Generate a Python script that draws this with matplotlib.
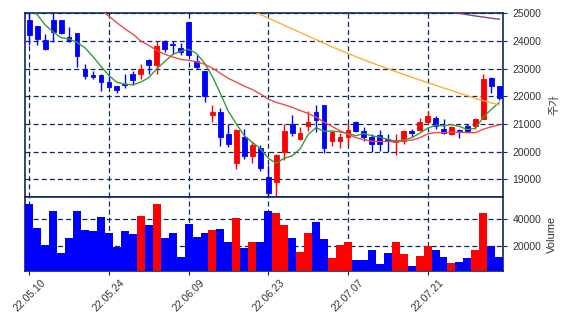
import numpy as np
import matplotlib
matplotlib.use("Agg")
import matplotlib.pyplot as plt

plt.rcParams['font.family'] = ['Liberation Sans', 'Noto Sans CJK KR', 'DejaVu Sans']

dates = ["22.05.10", "22.05.11", "22.05.12", "22.05.13", "22.05.16", "22.05.17", "22.05.18", "22.05.19",
         "22.05.20", "22.05.23", "22.05.24", "22.05.25", "22.05.26", "22.05.27", "22.05.30", "22.05.31",
         "22.06.02", "22.06.03", "22.06.07", "22.06.08", "22.06.09", "22.06.10", "22.06.13", "22.06.14",
         "22.06.15", "22.06.16", "22.06.17", "22.06.20", "22.06.21", "22.06.22", "22.06.23", "22.06.24",
         "22.06.27", "22.06.28", "22.06.29", "22.06.30", "22.07.01", "22.07.04", "22.07.05", "22.07.06",
         "22.07.07", "22.07.08", "22.07.11", "22.07.12", "22.07.13", "22.07.14", "22.07.15", "22.07.18",
         "22.07.19", "22.07.20", "22.07.21", "22.07.22", "22.07.25", "22.07.26", "22.07.27", "22.07.28",
         "22.07.29", "22.08.01", "22.08.02", "22.08.03"]

opens = [24750, 24540, 24030, 24757, 24757, 24150, 24273, 23000, 22756, 22757,
         22500, 22357, 22450, 22790, 22790, 23302, 23120, 23993, 23890, 23745,
         24673, 23290, 22902, 21310, 21440, 20636, 19575, 20515, 19823, 20115,
         19096, 18915, 19968, 21000, 20442, 20914, 21448, 21691, 20368, 20368,
         20515, 21084, 20757, 20513, 20605, 20470, 20332, 20368, 20757, 20793,
         21060, 21218, 20818, 20636, 20793, 20938, 20938, 21182, 22658, 22356]
highs = [25030, 24560, 24270, 25030, 24770, 24490, 24305, 23157, 22910, 22790,
         22720, 22380, 22818, 22908, 23156, 23330, 23990, 24050, 24010, 23920,
         24680, 23500, 22910, 21680, 21582, 21000, 20800, 20800, 20350, 20250,
         19500, 19920, 21000, 21327, 20900, 21450, 21680, 21691, 20730, 20680,
         21020, 21100, 20877, 20636, 20790, 20636, 20620, 20790, 20810, 21220,
         21484, 21300, 21160, 20920, 20818, 21000, 21230, 22790, 22680, 22360]
lows = [23840, 23850, 23665, 23968, 24260, 23970, 23065, 22633, 22636, 22200,
        22320, 22120, 22290, 22400, 22636, 22818, 22793, 23590, 23540, 23500,
        23470, 23000, 21800, 21060, 20200, 20150, 19360, 19727, 19600, 19300,
        18370, 18395, 19710, 20555, 20420, 20757, 20710, 19940, 20200, 20120,
        20250, 20700, 20380, 19995, 20010, 20000, 19880, 20260, 20530, 20760,
        21030, 20830, 20640, 20610, 20491, 20710, 20810, 21160, 22113, 21860]
closes = [24230, 24085, 23703, 24310, 24273, 23990, 23460, 22732, 22710, 22514,
          22332, 22230, 22418, 22575, 23000, 23145, 23822, 23720, 23870, 23605,
          23480, 23060, 21994, 21415, 20515, 20273, 20788, 19848, 20248, 19388,
          18515, 19885, 20757, 20660, 20672, 21078, 21146, 20120, 20690, 20515,
          20792, 20745, 20520, 20273, 20273, 20380, 20418, 20757, 20660, 21084,
          21302, 20939, 20659, 20902, 20732, 20732, 21182, 22636, 22357, 21950]
volumes = [51500, 33500, 20750, 46250, 14750, 26000, 46250, 32000, 31250, 41750,
           29750, 19500, 31250, 29250, 42750, 36000, 51500, 26000, 29750, 11750,
           36500, 26750, 29750, 32000, 32750, 23000, 41000, 18500, 23000, 23000,
           46250, 44750, 36000, 26000, 15500, 29750, 38000, 25250, 11000, 20750,
           23000, 9500, 9500, 17000, 6500, 14750, 23000, 14000, 5000, 12500,
           20000, 17000, 11750, 7250, 8000, 11000, 17000, 44750, 20000, 11750]

nan = np.nan
ma5 = [25250, 24950, 24580, 24330, 24120, 24072, 23947, 23753, 23433, 23081,
       22750, 22504, 22441, 22414, 22511, 22674, 22992, 23252, 23511, 23632,
       23699, 23547, 23202, 22711, 22093, 21451, 20997, 20568, 20334, 20109,
       19757, 19577, 19759, 19841, 20098, 20610, 20863, 20735, 20741, 20710,
       20653, 20572, 20652, 20569, 20521, 20438, 20373, 20420, 20498, 20660,
       20844, 20948, 20929, 20977, 20907, 20793, 20841, 21237, 21528, 21771]
ma20 = [nan, nan, nan, nan, nan, nan, nan, nan, 25300, 25100,
        24900, 24660, 24440, 24250, 24000, 23840, 23660, 23520, 23420, 23336,
        23299, 23247, 23162, 23017, 22829, 22644, 22510, 22366, 22243, 22086,
        21895, 21778, 21695, 21599, 21483, 21380, 21246, 21066, 20907, 20752,
        20618, 20502, 20429, 20371, 20359, 20365, 20346, 20392, 20412, 20497,
        20636, 20689, 20684, 20696, 20699, 20682, 20684, 20810, 20893, 20965]
ma60 = [nan] * 28 + [25090, 24960,
        24830, 24700, 24570, 24440, 24310, 24180, 24050, 23920, 23790, 23670,
        23550, 23430, 23320, 23210, 23100, 23000, 22890, 22790, 22690, 22590,
        22490, 22400, 22300, 22210, 22110, 22020, 21920, 21840, 21760, 21690]
ma120 = [nan] * 53 + [25050, 24995, 24950, 24905, 24865, 24825, 24785]

UP = '#ff0000'
DOWN = '#0000ff'
NAVY = '#0b2a5e'

x = np.arange(len(closes))
o = np.array(opens); c = np.array(closes); h = np.array(highs); l = np.array(lows)
up = c >= o
colors = np.where(up, UP, DOWN)

fig = plt.figure(figsize=(5.68, 3.28), dpi=100)
ax = fig.add_axes([0.0445, 0.399, 0.8415, 0.562])
axv = fig.add_axes([0.0445, 0.174, 0.8415, 0.225], sharex=ax)

# candles
ax.vlines(x, l, h, colors=colors, linewidth=1.0, zorder=3)
ax.bar(x, np.abs(c - o), bottom=np.minimum(o, c), width=0.6, color=colors,
       edgecolor=colors, linewidth=0.6, zorder=4)

# moving averages
ax.plot(x, ma5, color='#3a9a3a', linewidth=1.0, zorder=5)
ax.plot(x, ma20, color='#f24a4a', linewidth=1.0, zorder=5)
ax.plot(x, ma60, color='#ffb030', linewidth=1.0, zorder=5)
ax.plot(x, ma120, color='#7a4a7a', linewidth=1.0, zorder=5)

# volume
axv.bar(x, volumes, width=1.0, color=colors, linewidth=0, zorder=3)

ax.set_xlim(-0.5, 59.5)
ax.set_ylim(18350, 25020)
axv.set_ylim(0.3 * min(volumes), 1.1 * max(volumes))

tick_idx = list(range(0, len(dates), 10))
axv.set_xticks(tick_idx)
axv.set_xticklabels([dates[i] for i in tick_idx], rotation=45, ha='center',
                    fontsize=7.5, color='#333333')
ax.tick_params(axis='x', labelbottom=False, length=0)

ax.set_yticks([19000, 20000, 21000, 22000, 23000, 24000, 25000])
axv.set_yticks([20000, 40000])
for a in (ax, axv):
    a.yaxis.tick_right()
    a.yaxis.set_label_position('right')
    a.tick_params(axis='y', labelsize=7.5, labelcolor='#333333', color=NAVY,
                  length=3, width=0.8)
    a.grid(True, linestyle=(0, (4, 2.5)), color=NAVY, linewidth=0.9, zorder=0)
    a.set_axisbelow(True)
    for s in a.spines.values():
        s.set_color(NAVY)
        s.set_linewidth(1.2)
axv.tick_params(axis='x', color='#222222', length=3, width=0.8, pad=2)

ax.set_ylabel('주가', fontsize=8, color='#333333', labelpad=6)
axv.set_ylabel('Volume', fontsize=8, color='#333333', labelpad=4)

fig.savefig('out.png', dpi=100)
